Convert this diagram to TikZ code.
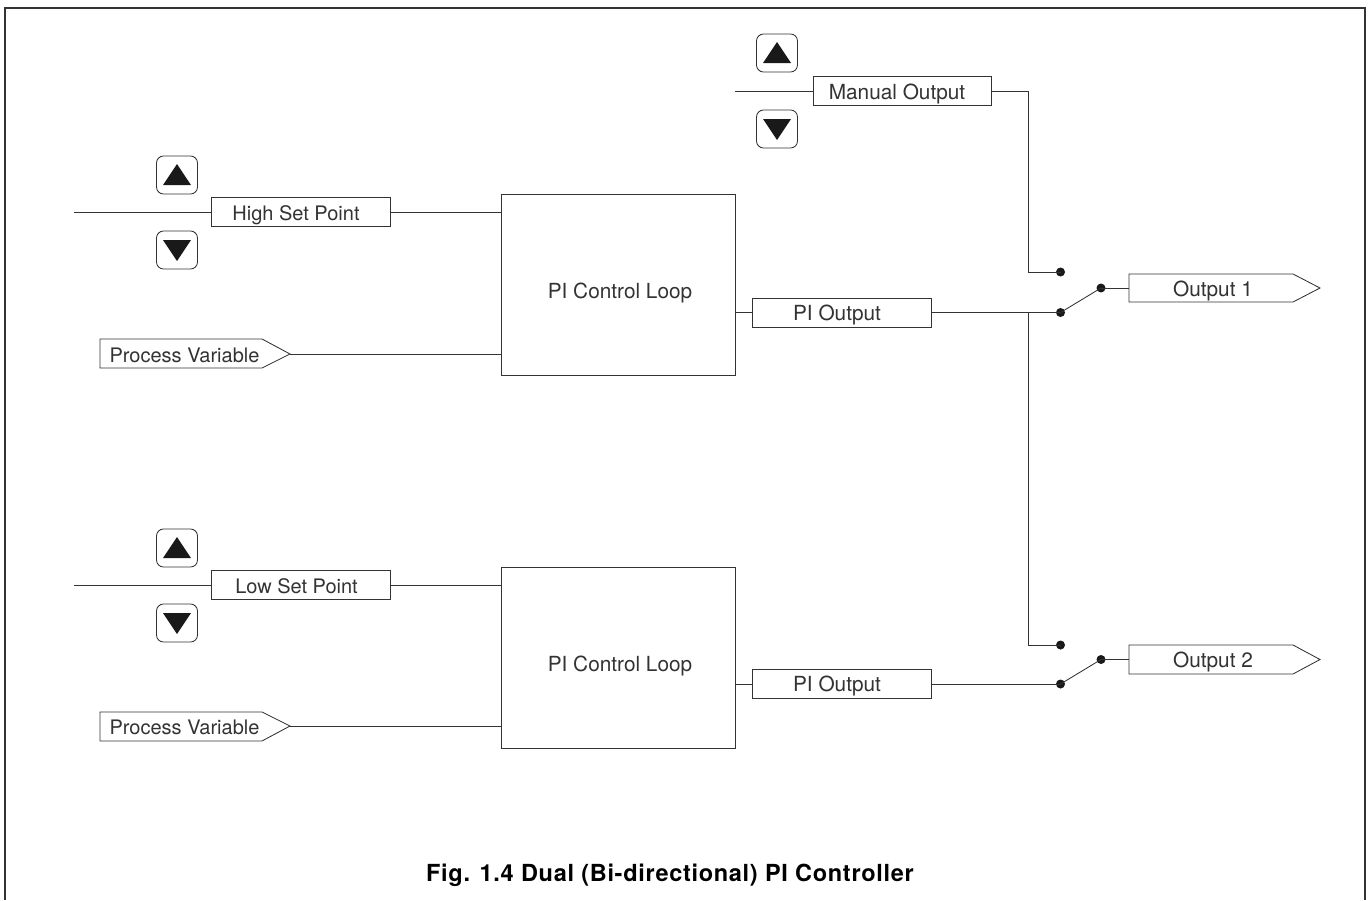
\documentclass[tikz,border=0pt]{standalone}
\usepackage{fontspec}
\setmainfont{TeX Gyre Heros}
\definecolor{ink}{HTML}{333333}
\tikzset{
  x=1pt,y=-1pt,
  wire/.style={draw=ink,line width=0.85pt},
  box/.style={draw=ink,line width=0.85pt,fill=white,rectangle,minimum height=29pt,inner sep=0pt},
  loopbox/.style={draw=ink,line width=0.85pt,fill=white,rectangle,minimum width=234pt,minimum height=181pt,inner sep=0pt},
  lbl/.style={inner sep=0pt,text=ink,font=\fontsize{20}{24}\selectfont},
  lblw/.style={inner sep=0pt,text=ink,font=\fontsize{20.8}{24}\selectfont},
  btn/.style={draw=ink,line width=0.85pt,rounded corners=7pt,minimum width=41pt,minimum height=38pt,inner sep=0pt,fill=white},
  contact/.style={circle,fill=black!90,minimum size=9pt,inner sep=0pt},
  tri/.style={fill=black!90,draw=none},
}
\newcommand{\upbtn}[3]{%
  \node[btn] (#1) at (#2,#3) {};
  \fill[tri] (#2-14,#3+10) -- (#2+14,#3+10) -- (#2,#3-11) -- cycle;}
\newcommand{\dnbtn}[3]{%
  \node[btn] (#1) at (#2,#3) {};
  \fill[tri] (#2-14,#3-10) -- (#2+14,#3-10) -- (#2,#3+11) -- cycle;}
\begin{document}
\begin{tikzpicture}
\useasboundingbox (0,0) rectangle (1372,900);
% frame
\draw[draw=ink,line width=1.1pt] (5,900) -- (5,8) -- (1365,8) -- (1365,900);
% Manual output
\coordinate (mstart) at (735,91);
\coordinate (mcorner) at (1028,91);
\node[box,minimum width=178pt] (manual) at (902.5,91) {};
\node[lblw] (manualt) at (897,94) {Manual Output};
\upbtn{mup}{777}{53}
\dnbtn{mdn}{777}{129}
\draw[wire] (mstart) -- (manual.west);
% High set point
\coordinate (hstart) at (74,212);
\node[box,minimum width=179pt] (high) at (301,212) {};
\node[lbl] (hight) at (296,215) {High Set Point};
\upbtn{hup}{177}{175}
\dnbtn{hdn}{177}{250}
\node[loopbox] (loop1) at (618,285) {};
\node[lblw] (loop1t) at (620,293) {PI Control Loop};
\draw[wire] (hstart) -- (high.west);
\draw[wire] (high.east) -- (high.east -| loop1.west);
% Process variable 1
\draw[wire,fill=white] (100,339) -- (262,339) -- (290,354) -- (262,368) -- (100,368) -- cycle;
\node[lbl] (pv1) at (184.5,355) {Process Variable};
\coordinate (pv1tip) at (290,354);
\draw[wire] (pv1tip) -- (pv1tip -| loop1.west);
% PI output 1
\node[box,minimum width=179pt] (pi1) at (841.5,312.5) {};
\node[lblw] (pi1t) at (837,315) {PI Output};
\draw[wire] (pi1.west -| loop1.east) -- (pi1.west);
% Switch 1
\node[contact] (c1a) at (1060.5,272) {};
\node[contact] (c1b) at (1060.5,312.5) {};
\node[contact] (c1c) at (1101,288) {};
\draw[wire] (pi1.east) -- (c1b.center);
\draw[wire] (c1b.center) -- (c1c.center);
\draw[wire] (mcorner -| manual.east) -- (mcorner) -- (1028,272) -- (c1a.center);
\draw[wire,fill=white] (1129,274) -- (1293,274) -- (1320,288) -- (1293,302) -- (1129,302) -- cycle;
\node[lblw] (o1) at (1213,291) {Output 1};
\coordinate (o1w) at (1129,288);
\draw[wire] (c1c.center) -- (o1w);
% Low set point
\coordinate (lstart) at (74,585);
\node[box,minimum width=179pt] (low) at (301,585) {};
\node[lbl] (lowt) at (296.5,586) {Low Set Point};
\upbtn{lup}{177}{548}
\dnbtn{ldn}{177}{623}
\node[loopbox] (loop2) at (618,657.5) {};
\node[lblw] (loop2t) at (620,666) {PI Control Loop};
\draw[wire] (lstart) -- (low.west);
\draw[wire] (low.east) -- (low.east -| loop2.west);
% Process variable 2
\draw[wire,fill=white] (100,712) -- (262,712) -- (290,726) -- (262,741) -- (100,741) -- cycle;
\node[lbl] (pv2) at (184.5,727) {Process Variable};
\coordinate (pv2tip) at (290,726);
\draw[wire] (pv2tip) -- (pv2tip -| loop2.west);
% PI output 2
\node[box,minimum width=179pt] (pi2) at (841.5,684) {};
\node[lblw] (pi2t) at (837,686) {PI Output};
\draw[wire] (pi2.west -| loop2.east) -- (pi2.west);
% Switch 2
\node[contact] (c2a) at (1060.5,645) {};
\node[contact] (c2b) at (1060.5,684) {};
\node[contact] (c2c) at (1101,659.5) {};
\draw[wire] (pi2.east) -- (c2b.center);
\draw[wire] (c2b.center) -- (c2c.center);
\draw[wire] (1028,312.5) -- (1028,645) -- (c2a.center);
\draw[wire,fill=white] (1129,645) -- (1293,645) -- (1320,659.5) -- (1293,674) -- (1129,674) -- cycle;
\node[lblw] (o2) at (1213,662) {Output 2};
\coordinate (o2w) at (1129,659.5);
\draw[wire] (c2c.center) -- (o2w);
% caption
\node[inner sep=0pt,text=black,font=\bfseries\fontsize{23.5}{27}\selectfont] (cap) at (670,875) {\addfontfeatures{LetterSpace=3}Fig. 1.4 Dual (Bi-directional) PI Controller};
\end{tikzpicture}
\end{document}
